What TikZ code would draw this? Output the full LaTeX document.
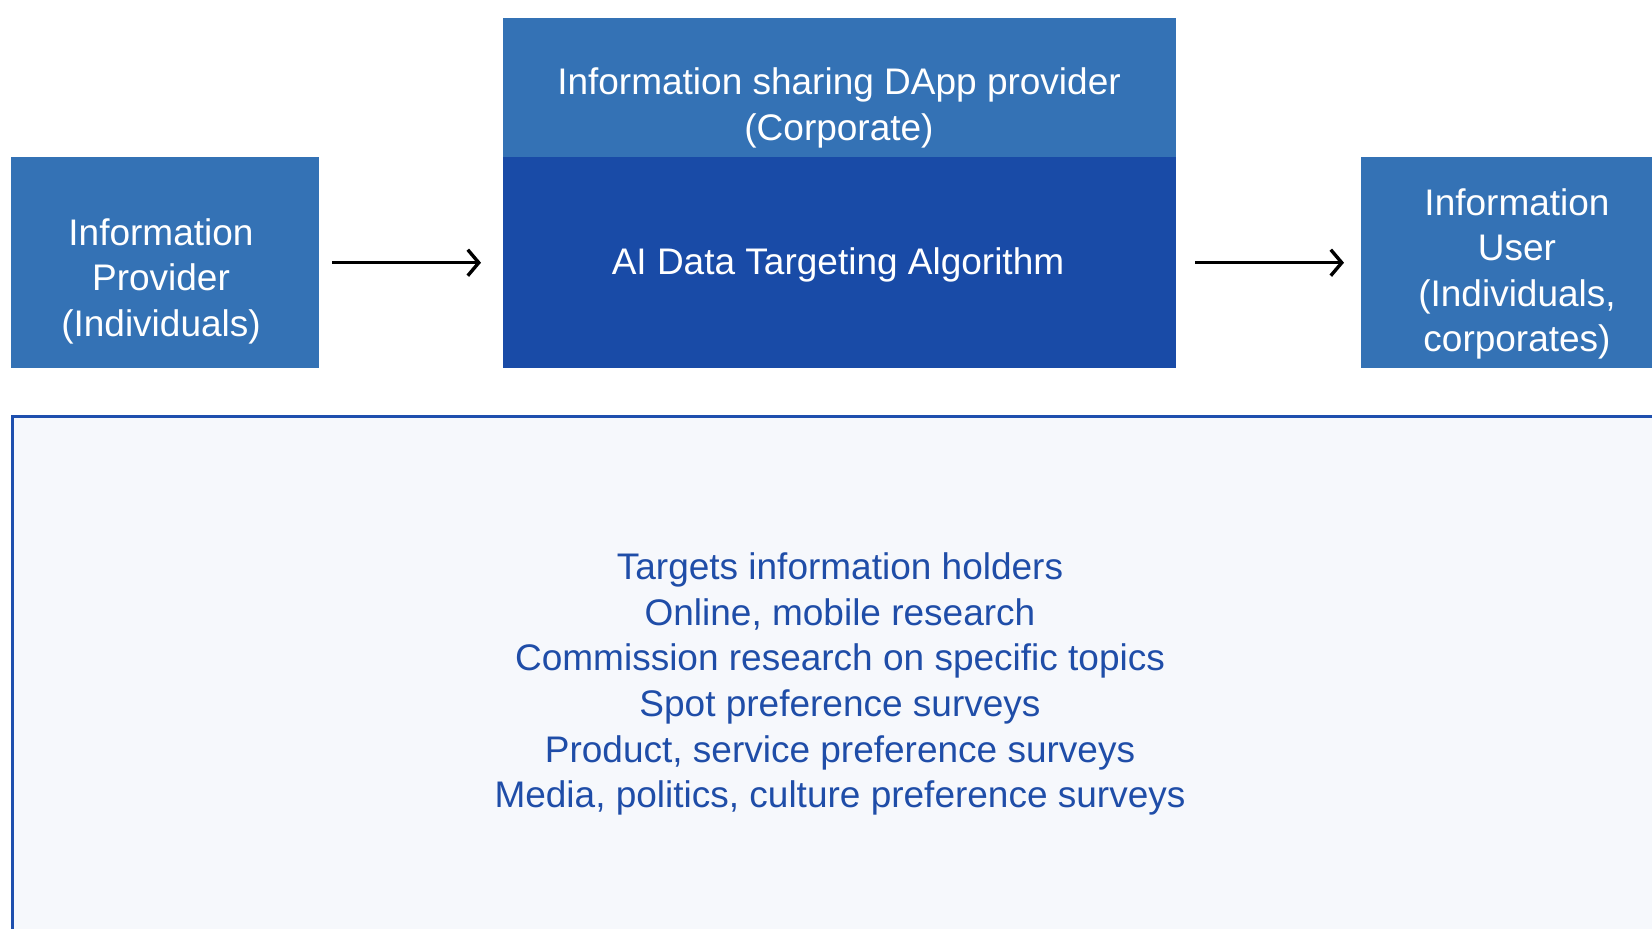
\documentclass[tikz,border=0pt]{standalone}
\usepackage{fontspec}
\setmainfont{Liberation Sans}
\usetikzlibrary{arrows.meta}
\definecolor{lightbox}{RGB}{52,114,181}
\definecolor{darkbox}{RGB}{25,75,167}
\definecolor{panelfill}{RGB}{246,248,252}
\definecolor{panelline}{RGB}{30,79,174}
\definecolor{paneltext}{RGB}{31,77,168}
\tikzset{
  boxtext/.style={text=white,align=center,font=\fontsize{37}{45.5}\selectfont,inner sep=0pt},
  flow/.style={line width=3pt,-{Straight Barb[length=11pt,width=26pt,line width=3.4pt]}}
}
\begin{document}
\begin{tikzpicture}[x=1pt,y=-1pt]
\useasboundingbox (0,0) rectangle (1652,929);
\fill[white] (0,0) rectangle (1652,929);
% boxes
\node[fill=lightbox,inner sep=0pt,minimum width=308pt,minimum height=211pt,anchor=north west] (prov) at (11,157) {};
\node[fill=lightbox,inner sep=0pt,minimum width=673pt,minimum height=139pt,anchor=north west] (dapp) at (503,18) {};
\node[fill=darkbox,inner sep=0pt,minimum width=673pt,minimum height=211pt,anchor=north west] (algo) at (503,157) {};
\node[fill=lightbox,inner sep=0pt,minimum width=300pt,minimum height=211pt,anchor=north west] (user) at (1361,157) {};
% texts
\node[boxtext] (provt) at (161,281) {Information\\Provider\\(Individuals)};
\node[boxtext] (dappt) at (839,108) {Information sharing DApp provider\\(Corporate)};
\node[boxtext] (algot) at (838,265) {AI Data Targeting Algorithm};
\node[boxtext] (usert) at (1517,274) {Information\\User\\(Individuals,\\corporates)};
% arrows
\draw[flow,shorten <=13pt,shorten >=22pt] (prov.east) -- (prov.east -| algo.west);
\draw[flow,shorten <=19pt,shorten >=17pt] (algo.east) -- (algo.east -| user.west);
% bottom panel
\draw[line width=3pt,draw=panelline,fill=panelfill] (12,416) rectangle (1670,945);
\node[align=center,text=paneltext,font=\fontsize{37}{45.7}\selectfont,inner sep=0pt] (list) at (840,684)
{Targets information holders\\Online, mobile research\\Commission research on specific topics\\Spot preference surveys\\Product, service preference surveys\\Media, politics, culture preference surveys};
\end{tikzpicture}
\end{document}
